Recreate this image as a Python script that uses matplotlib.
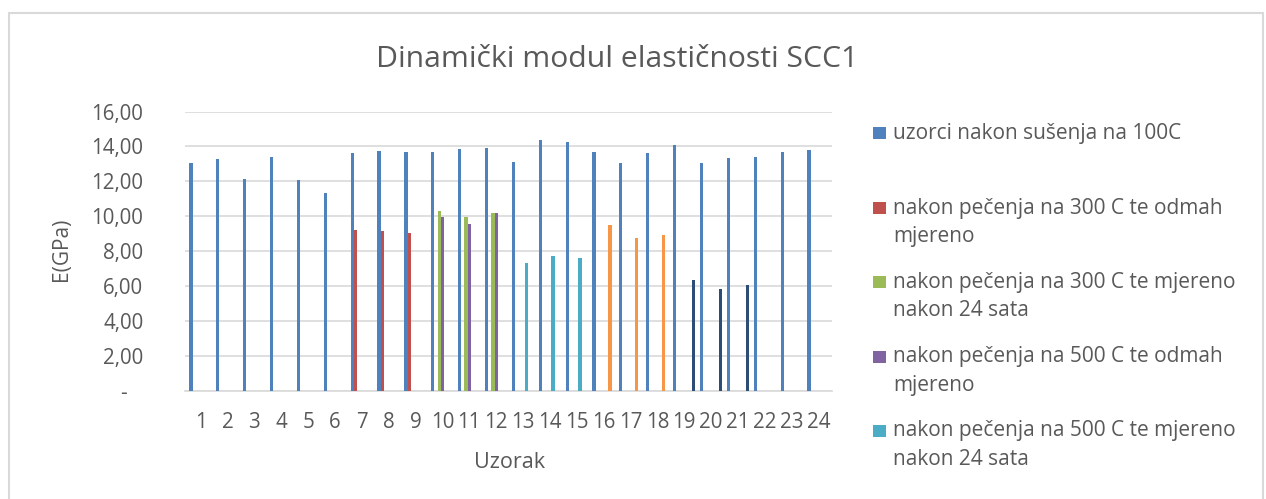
import matplotlib
matplotlib.use("Agg")
import matplotlib.pyplot as plt
from matplotlib.patches import Rectangle
import numpy as np

# Sample numbers on the category axis
samples = [str(i) for i in range(1, 25)]

# E (GPa) per treatment; None where a sample was not tested in that condition
dried_100 = [13.03, 13.26, 12.15, 13.41, 12.07, 11.35, 13.60, 13.75, 13.68, 13.68, 13.83, 13.91,
             13.09, 14.35, 14.27, 13.68, 13.03, 13.60, 14.06, 13.03, 13.32, 13.41, 13.70, 13.77]
fired_300_now = [None] * 6 + [9.21, 9.13, 9.06] + [None] * 15
fired_300_24h = [None] * 9 + [10.32, 9.94, 10.17] + [None] * 12
fired_500_now = [None] * 9 + [9.94, 9.57, 10.17] + [None] * 12
fired_500_24h = [None] * 12 + [7.30, 7.72, 7.59] + [None] * 9
fired_700_now = [None] * 15 + [9.50, 8.77, 8.90] + [None] * 6
fired_700_24h = [None] * 18 + [6.33, 5.81, 6.04] + [None] * 3

series_labels = [
    "uzorci nakon sušenja na 100C",
    "nakon pečenja na 300 C te odmah\nmjereno",
    "nakon pečenja na 300 C te mjereno\nnakon 24 sata",
    "nakon pečenja na 500 C te odmah\nmjereno",
    "nakon pečenja na 500 C te mjereno\nnakon 24 sata",
    "nakon pečenja na 700 C te odmah\nmjereno",
    "nakon pečenja na 700 C te mjereno\nnakon 24 sata",
]
series_values = [dried_100, fired_300_now, fired_300_24h, fired_500_now,
                 fired_500_24h, fired_700_now, fired_700_24h]
series_colors = ["#4F81BD", "#C0504D", "#9BBB59", "#8064A2", "#4BACC6", "#F79646", "#2C4D75"]
legend_count = 5  # the legend box only has room for the first five entries

y_ticks = [0, 2, 4, 6, 8, 10, 12, 14, 16]
y_tick_labels = ["-   ", "2,00", "4,00", "6,00", "8,00", "10,00", "12,00", "14,00", "16,00"]

TEXT = "#595959"
GRID = "#D9D9D9"
FONT = "Open Sans"
plt.rcParams["font.family"] = [FONT, "DejaVu Sans"]

W, H = 1266, 499
fig = plt.figure(figsize=(W / 100, H / 100), dpi=100)

# Chart frame
fig.patches.append(Rectangle((9 / W, -0.05), 1254 / W, 1 - 13 / H + 0.05,
                             transform=fig.transFigure, fill=False,
                             edgecolor=GRID, linewidth=1.5))

ax = fig.add_axes([185 / W, (H - 390.7) / H, (832 - 185) / W, (390.7 - 111.6) / H])

x = np.arange(len(samples))
n = len(series_values)
group = 0.833
bw = group / n
for i, (vals, col, lab) in enumerate(zip(series_values, series_colors, series_labels)):
    v = np.array([np.nan if a is None else a for a in vals], dtype=float)
    ax.bar(x + (i - (n - 1) / 2) * bw, v, width=bw, color=col, linewidth=0, label=lab, zorder=3)

ax.set_xlim(-0.58, len(samples) - 0.5)
ax.set_ylim(0, 16)
ax.set_yticks(y_ticks)
ax.set_yticklabels(y_tick_labels)
ax.set_xticks(x)
ax.set_xticklabels(samples)
ax.tick_params(axis="y", length=0, pad=30, labelsize=14.8, labelcolor=TEXT)
ax.tick_params(axis="x", length=0, pad=15, labelsize=14.8, labelcolor=TEXT)
ax.yaxis.grid(True, color=GRID, linewidth=1.2, zorder=0)
for s in ["top", "right", "left"]:
    ax.spines[s].set_visible(False)
ax.spines["bottom"].set_color(GRID)
ax.spines["bottom"].set_linewidth(1.2)

fig.text(617.5 / W, 1 - 67 / H, "Dinamički modul elastičnosti SCC1", ha="center",
         va="baseline", fontsize=21.7, color=TEXT)
fig.text(61.7 / W, 1 - 249 / H, "E(GPa)", rotation=90, ha="center", va="center",
         fontsize=15, color=TEXT)
fig.text(510 / W, 1 - 462 / H, "Uzorak", ha="center", va="center", fontsize=15.5, color=TEXT)

# Legend drawn as a column of colour keys with wrapped labels
first_line_y = [133.3, 208.3, 282.3, 356.7, 430.7]
line_gap = 28.5
for k in range(legend_count):
    y0 = first_line_y[k]
    fig.patches.append(Rectangle((873 / W, 1 - (y0 + 6) / H), 13 / W, 12 / H,
                                 transform=fig.transFigure, facecolor=series_colors[k],
                                 edgecolor="none"))
    for j, line in enumerate(series_labels[k].split("\n")):
        fig.text(893 / W, 1 - (y0 + j * line_gap) / H, line, ha="left", va="center",
                 fontsize=15, color=TEXT)

fig.savefig("out.png", dpi=100)
